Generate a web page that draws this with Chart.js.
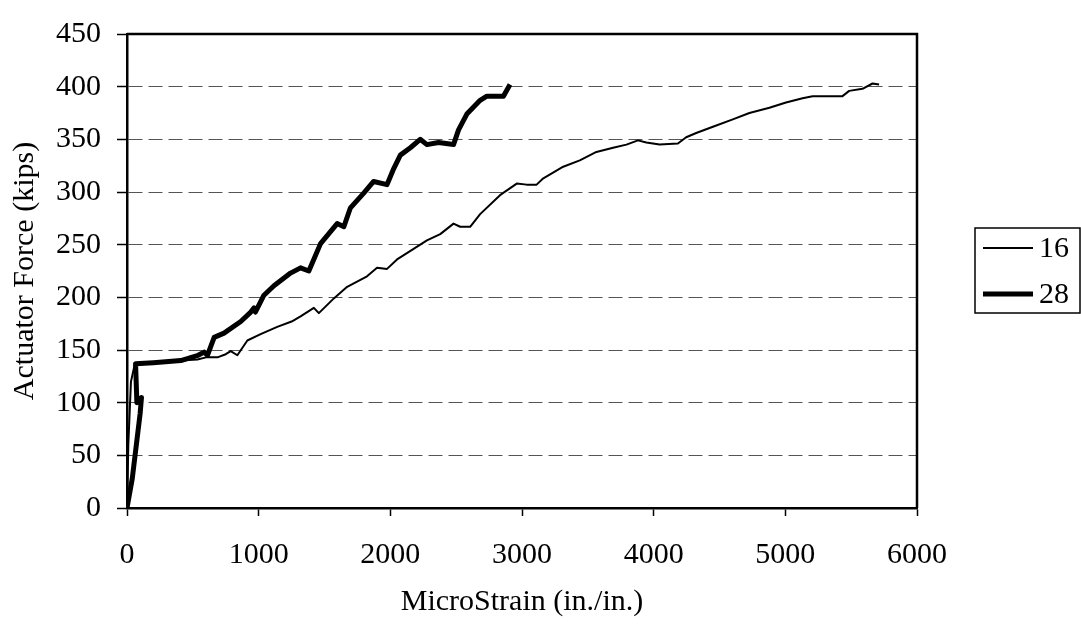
<!DOCTYPE html>
<html lang="en">
<head>
    <script src="https://cdn.jsdelivr.net/npm/chart.js"></script>
    <style>
        body, html {
            margin: 0;
            padding: 0;
            background-color: #ffffff;
        }
        #wrap {
            width: 1081px;
            height: 632px;
        }
    </style>
</head>
<body>
    <div id="wrap">
        <canvas id="strainChart" width="1081" height="632"></canvas>
    </div>
    <script>
        // Gauge 16 (thin line)
        const strain16 = [0, 10, 30, 60, 200, 400, 535, 600, 687, 750, 788, 838, 914, 1015, 1141, 1250, 1318, 1419, 1457, 1571, 1672, 1823, 1899, 1975, 2051, 2126, 2278, 2379, 2480, 2530, 2606, 2682, 2833, 2960, 3035, 3111, 3162, 3313, 3439, 3565, 3692, 3793, 3881, 3944, 4045, 4184, 4247, 4323, 4450, 4601, 4727, 4879, 5005, 5131, 5207, 5434, 5485, 5586, 5662, 5712];
        const force16 = [0, 60, 120, 137, 138, 140, 141, 143, 143, 146, 149, 145, 159, 165, 172, 177, 182, 190, 185, 199, 210, 220, 228, 227, 236, 242, 254, 260, 270, 267, 267, 279, 297, 308, 307, 307, 313, 324, 330, 338, 342, 345, 349, 347, 345, 346, 352, 356, 362, 369, 375, 380, 385, 389, 391, 391, 396, 398, 403, 402];

        // Gauge 28 (thick line)
        const strain28 = [0, 40, 100, 110, 75, 65, 200, 409, 540, 586, 611, 662, 737, 864, 940, 965, 975, 1040, 1116, 1242, 1318, 1381, 1470, 1596, 1647, 1697, 1798, 1873, 1975, 2025, 2076, 2152, 2227, 2278, 2366, 2480, 2518, 2581, 2682, 2733, 2859, 2909];
        const force28 = [0, 28, 90, 105, 100, 137, 138, 140, 145, 148, 145, 162, 166, 177, 186, 190, 186, 202, 211, 223, 228, 225, 251, 270, 267, 285, 299, 310, 307, 322, 335, 342, 350, 345, 347, 345, 359, 374, 387, 391, 391, 402];

        const seriesLabels = ['16', '28'];
        const seriesWidths = [2, 5];

        const xTicks = [0, 1000, 2000, 3000, 4000, 5000, 6000];
        const yTicks = [0, 50, 100, 150, 200, 250, 300, 350, 400, 450];

        function toPoints(xs, ys) {
            return xs.map((x, i) => ({ x: x, y: ys[i] }));
        }

        const serif = "'Liberation Serif', 'Times New Roman', serif";

        // Box round the plot and the legend on the right
        const framePlugin = {
            id: 'frame',
            afterDraw(chart) {
                const ctx = chart.ctx;
                const a = chart.chartArea;
                ctx.save();
                ctx.strokeStyle = '#000';
                ctx.lineWidth = 2.5;
                ctx.beginPath();
                ctx.moveTo(a.left, a.top);
                ctx.lineTo(a.right, a.top);
                ctx.lineTo(a.right, a.bottom);
                ctx.stroke();

                // legend
                const lx = 975, ly = 228, lw = 105, lh = 85;
                ctx.lineWidth = 1.5;
                ctx.strokeRect(lx, ly, lw, lh);
                ctx.font = '30px ' + serif;
                ctx.fillStyle = '#000';
                ctx.textBaseline = 'middle';
                chart.data.datasets.forEach((ds, i) => {
                    const y = ly + 20 + i * 46;
                    ctx.lineWidth = ds.borderWidth;
                    ctx.beginPath();
                    ctx.moveTo(lx + 8, y);
                    ctx.lineTo(lx + 58, y);
                    ctx.stroke();
                    ctx.fillText(ds.label, lx + 64, y + 1);
                });
                ctx.restore();
            }
        };

        const ctx = document.getElementById('strainChart').getContext('2d');
        new Chart(ctx, {
            type: 'line',
            data: {
                datasets: [
                    {
                        label: seriesLabels[0],
                        data: toPoints(strain16, force16),
                        borderColor: '#000',
                        borderWidth: seriesWidths[0],
                        pointRadius: 0,
                        tension: 0,
                        borderJoinStyle: 'round'
                    },
                    {
                        label: seriesLabels[1],
                        data: toPoints(strain28, force28),
                        borderColor: '#000',
                        borderWidth: seriesWidths[1],
                        pointRadius: 0,
                        tension: 0,
                        borderJoinStyle: 'round'
                    }
                ]
            },
            options: {
                responsive: false,
                animation: false,
                layout: {
                    padding: { top: 22, right: 164, bottom: 0, left: 0 }
                },
                plugins: {
                    legend: { display: false },
                    tooltip: { enabled: false }
                },
                scales: {
                    x: {
                        type: 'linear',
                        min: 0,
                        max: 6000,
                        afterBuildTicks(scale) {
                            scale.ticks = xTicks.map(v => ({ value: v }));
                        },
                        afterFit(scale) {
                            scale.height = 124;
                        },
                        ticks: {
                            color: '#000',
                            font: { family: serif, size: 30 },
                            padding: 21,
                            maxRotation: 0,
                            callback: v => String(v)
                        },
                        grid: {
                            drawOnChartArea: false,
                            drawTicks: true,
                            tickLength: 8,
                            tickColor: '#000',
                            tickWidth: 1.5
                        },
                        border: { color: '#000', width: 2.5 },
                        title: {
                            display: true,
                            text: 'MicroStrain (in./in.)',
                            color: '#000',
                            font: { family: serif, size: 30 },
                            padding: { top: 0, bottom: 12 }
                        }
                    },
                    y: {
                        min: 0,
                        max: 450,
                        afterBuildTicks(scale) {
                            scale.ticks = yTicks.map(v => ({ value: v }));
                        },
                        afterFit(scale) {
                            scale.width = 127;
                        },
                        ticks: {
                            color: '#000',
                            font: { family: serif, size: 30 },
                            padding: 16,
                            callback: v => String(v)
                        },
                        grid: {
                            color: '#555',
                            lineWidth: 1,
                            tickLength: 10,
                            tickColor: '#000',
                            tickWidth: 1.5,
                            tickBorderDash: []
                        },
                        border: { color: '#000', width: 2.5, dash: [14, 6] },
                        title: {
                            display: true,
                            text: 'Actuator Force (kips)',
                            color: '#000',
                            font: { family: serif, size: 30 },
                            padding: { top: 7, bottom: 0 }
                        }
                    }
                }
            },
            plugins: [framePlugin]
        });
    </script>
</body>
</html>
